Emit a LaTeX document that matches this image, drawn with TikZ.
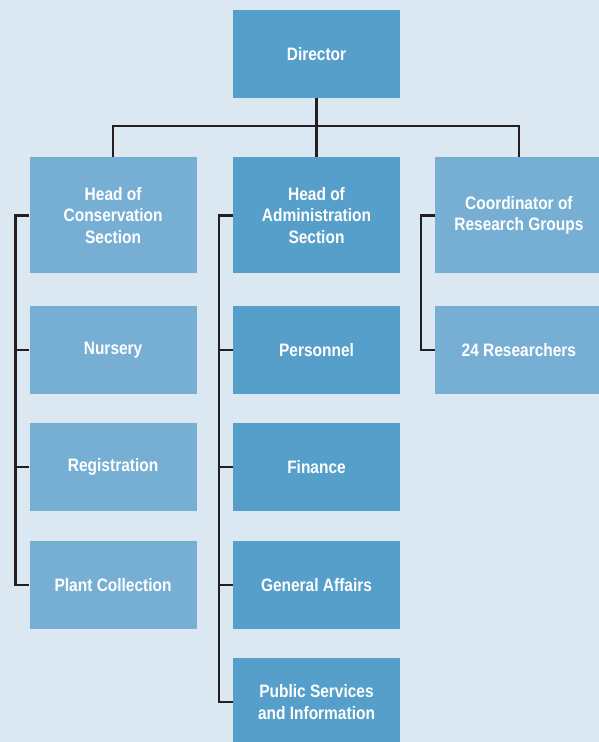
\documentclass[tikz,border=0pt]{standalone}
\usepackage{fontspec}
\setmainfont{Liberation Sans}[FakeStretch=0.86]
\usetikzlibrary{positioning}
\definecolor{bgblue}{HTML}{DBE8F2}
\definecolor{darkbox}{HTML}{559FCA}
\definecolor{lightbox}{HTML}{77AFD4}
\definecolor{linkgray}{HTML}{231F20}

\begin{document}
\begin{tikzpicture}[
      x=1pt,y=1pt,
      orgbox/.style={
         rectangle,
         text=white,
         align=center,
         inner sep=0pt,
         minimum width=167pt,
         minimum height=88pt,
         font=\bfseries\fontsize{18}{21.5}\selectfont},
      darkunit/.style={orgbox,fill=darkbox},
      lightunit/.style={orgbox,fill=lightbox},
      headbox/.style={minimum height=116pt},
      link/.style={draw=linkgray,line width=2.2pt},
      node distance=29pt and 35pt
      ]
      \fill[bgblue] (0,0) rectangle (599,-742);
      \useasboundingbox (0,0) rectangle (599,-742);

      \node[darkunit] (director) at (316.5,-54) {Director};
      \node[darkunit,headbox,below=59pt of director] (admin) {Head of\\Administration\\Section};
      \node[lightunit,headbox,left=36pt of admin] (conservation) {Head of\\Conservation\\Section};
      \node[lightunit,headbox,right=of admin] (coordinator) {Coordinator of\\Research Groups};

      \node[lightunit,below=32pt of conservation] (nursery) {Nursery};
      \node[lightunit,below=of nursery] (registration) {Registration};
      \node[lightunit,below=of registration] (plants) {Plant Collection};

      \node[darkunit,below=32pt of admin] (personnel) {Personnel};
      \node[darkunit,below=of personnel] (finance) {Finance};
      \node[darkunit,below=of finance] (affairs) {General Affairs};
      \node[darkunit,below=of affairs] (public) {Public Services\\and Information};

      \node[lightunit,below=32pt of coordinator] (researchers) {24 Researchers};

      % director to the three heads
      \draw[link] (director) -- (admin);
      \draw[link] (conservation.north) |- ++(0,31pt) -| (coordinator.north);

      % spine of each column
      \foreach \head/\last in {conservation/plants, admin/public, coordinator/researchers}
        \draw[link] (\head.west) -- ++(-14pt,0) |- (\last.west);

      \foreach \unit in {nursery, registration, personnel, finance, affairs}
        \draw[link] (\unit.west) -- ++(-14pt,0);
\end{tikzpicture}
\end{document}
